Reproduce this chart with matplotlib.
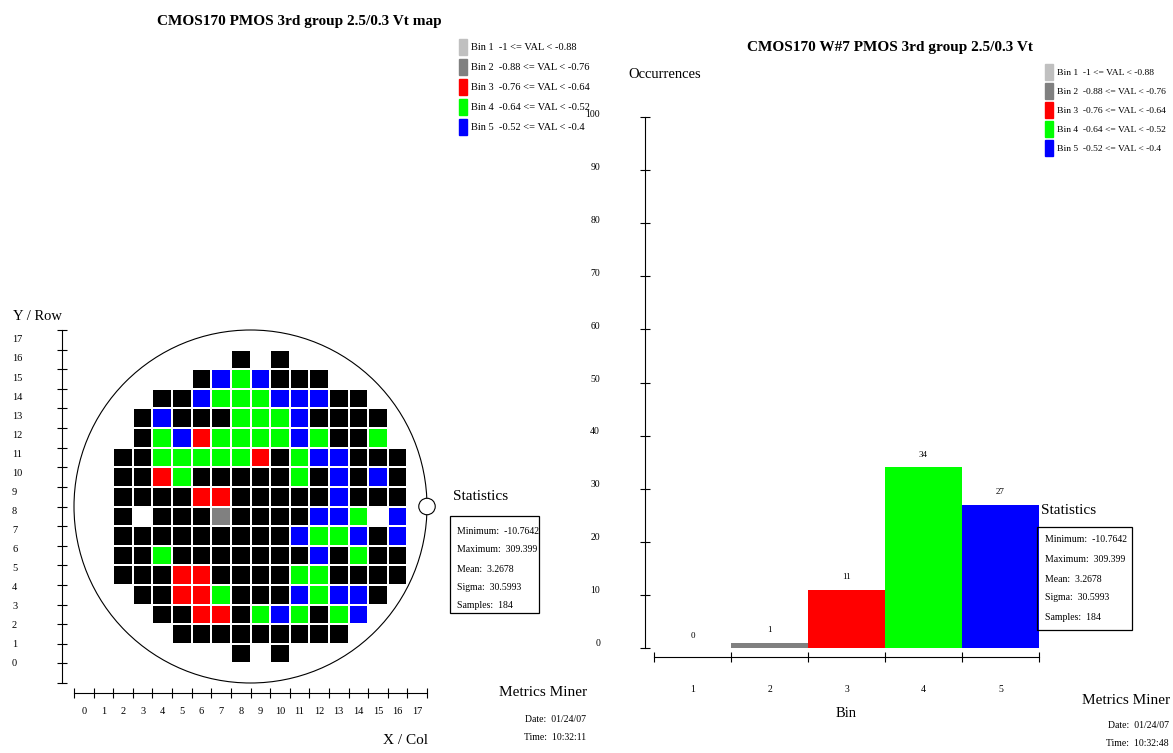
import matplotlib
matplotlib.use('Agg')
import matplotlib.pyplot as plt
import numpy as np
from matplotlib.patches import Circle, Rectangle
from matplotlib.colors import ListedColormap, BoundaryNorm

plt.rcParams['font.family'] = ['Liberation Serif', 'DejaVu Serif']

W, H = 1173, 753

# bins and histogram
bin_labels = ['Bin 1  -1 <= VAL < -0.88', 'Bin 2  -0.88 <= VAL < -0.76',
              'Bin 3  -0.76 <= VAL < -0.64', 'Bin 4  -0.64 <= VAL < -0.52',
              'Bin 5  -0.52 <= VAL < -0.4']
bin_colors = ['#c0c0c0', '#808080', '#ff0000', '#00ff00', '#0000ff']
bins = [1, 2, 3, 4, 5]
counts = [0, 1, 11, 34, 27]

stats_lines = ['Minimum:  -10.7642', 'Maximum:  309.399', 'Mean:  3.2678',
               'Sigma:  30.5993', 'Samples:  184']

# wafer map, rows 16 down to 1, columns 2..16
# K = out of range, Y = bin 2, R = bin 3, G = bin 4, B = bin 5, . = no die
first_col = 2
top_row = 16
wafer_rows = [
    "......K.K......",
    "....KBGBKKK....",
    "..KKBGGGBBBKK..",
    ".KBKKKGGGBKKKK.",
    ".KGBRGGGGBGKKG.",
    "KKGGGGGRKGBBKKK",
    "KKRGKKKKKGKBKBK",
    "KKKKRRKKKKKBKKK",
    "K.KKKYKKKKBBG.B",
    "KKKKKKKKKBGGBKB",
    "KKGKKKKKKKBKGKK",
    "KKKRRKKKKGGKKKK",
    ".KKRRGKKKBGBBK.",
    "..KKRRKGBGKGB..",
    "...KKKKKKKKK...",
    "......K.K......",
]
code_of = {'K': 0, 'Y': 2, 'R': 3, 'G': 4, 'B': 5}

x_labels = [str(i) for i in range(18)]
y_labels = [str(i) for i in range(18)]
hist_yticks = list(range(0, 101, 10))


def fx(x):
    return x / W


def fy(y):
    return 1 - y / H


fig = plt.figure(figsize=(W / 100, H / 100), dpi=100)

# ---------------- wafer map ----------------
ax = fig.add_axes([fx(74), fy(683), 353 / W, 353 / H])
Z = np.full((18, 18), np.nan)
for i, line in enumerate(wafer_rows):
    r = top_row - i
    for j, ch in enumerate(line):
        if ch != '.':
            Z[r, first_col + j] = code_of[ch]
cmap = ListedColormap(['black'] + bin_colors)
norm = BoundaryNorm(np.arange(-0.5, 6.5, 1), cmap.N)
ax.pcolormesh(np.arange(19), np.arange(19), np.ma.masked_invalid(Z),
              cmap=cmap, norm=norm, edgecolors='white', linewidth=1.3)
ax.add_patch(Circle((9, 9), 9, fill=False, lw=0.8, color='black', zorder=5, clip_on=False))
ax.add_patch(Circle((18, 9), 0.42, facecolor='white', edgecolor='black', lw=0.8, zorder=6, clip_on=False))
ax.set_xlim(0, 18)
ax.set_ylim(0, 18)
for s in ['top', 'right']:
    ax.spines[s].set_visible(False)
ax.spines['left'].set_position(('outward', 8.6))
ax.spines['bottom'].set_position(('outward', 7.2))
ax.spines['left'].set_bounds(0, 18)
ax.spines['bottom'].set_bounds(0, 18)
ax.set_xticks(range(19))
ax.set_yticks(range(19))
ax.set_xticklabels([])
ax.set_yticklabels([])
ax.tick_params(direction='inout', length=7, width=0.8)
for k, lab in enumerate(x_labels):
    ax.text(k + 0.5, -1.43, lab, ha='center', va='center', fontsize=7.5, clip_on=False)
for k, lab in enumerate(y_labels):
    ax.text(-3.16, 0.97 + 0.972 * k, lab, ha='left', va='center', fontsize=7.5, clip_on=False)

fig.text(fx(299), fy(22), 'CMOS170 PMOS 3rd group 2.5/0.3 Vt map', ha='center', va='center',
         fontsize=11, fontweight='bold')
fig.text(fx(13), fy(316), 'Y / Row', ha='left', va='center', fontsize=10.5)
fig.text(fx(428), fy(740), 'X / Col', ha='right', va='center', fontsize=11)

# ---------------- histogram ----------------
hx = fig.add_axes([fx(654), fy(648), 385 / W, 531 / H])
hx.bar(bins, counts, width=1.0, color=bin_colors)
for b, c in zip(bins, counts):
    hx.text(b, c + 2.3, str(c), ha='center', va='center', fontsize=6.5)
hx.set_xlim(0.5, 5.5)
hx.set_ylim(0, 100)
for s in ['top', 'right']:
    hx.spines[s].set_visible(False)
hx.spines['left'].set_position(('outward', 6.5))
hx.spines['bottom'].set_position(('outward', 6.5))
hx.spines['left'].set_bounds(0, 100)
hx.spines['bottom'].set_bounds(0.5, 5.5)
hx.set_xticks(np.arange(0.5, 6.0, 1.0))
hx.set_yticks(hist_yticks)
hx.set_xticklabels([])
hx.set_yticklabels([])
hx.tick_params(direction='inout', length=7, width=0.8)
for v in hist_yticks:
    hx.text(-0.2, v * 0.995 + 0.9, str(v), ha='right', va='center', fontsize=7, clip_on=False)
for b in bins:
    hx.text(b, -7.9, str(b), ha='center', va='center', fontsize=7, clip_on=False)
hx.text(3, -12.4, 'Bin', ha='center', va='center', fontsize=10.5, clip_on=False)

fig.text(fx(890), fy(47), 'CMOS170 W#7 PMOS 3rd group 2.5/0.3 Vt', ha='center', va='center',
         fontsize=11, fontweight='bold')
fig.text(fx(628), fy(75), 'Occurrences', ha='left', va='center', fontsize=10.5)


# ---------------- legends ----------------
def legend(x, y0, step, size):
    for i, (lab, col) in enumerate(zip(bin_labels, bin_colors)):
        yc = y0 + i * step
        fig.patches.append(Rectangle((fx(x), fy(yc + 8)), 8 / W, 16 / H, color=col,
                                     transform=fig.transFigure))
        fig.text(fx(x + 12), fy(yc + 1), lab, ha='left', va='center', fontsize=size)


legend(459, 47, 20, 7.5)
legend(1045, 72, 19, 6.8)


# ---------------- statistics ----------------
def stats(x0, y0, w, h, title_x, title_y, text_x, lines_y):
    fig.text(fx(title_x), fy(title_y), 'Statistics', ha='left', va='center', fontsize=11)
    fig.patches.append(Rectangle((fx(x0), fy(y0 + h)), w / W, h / H, fill=False,
                                 edgecolor='black', lw=0.9, transform=fig.transFigure))
    for s, yy in zip(stats_lines, lines_y):
        fig.text(fx(text_x), fy(yy), s, ha='left', va='center', fontsize=7)


stats(450, 516, 89, 97, 453, 497, 457, [532, 550, 569, 587, 606])
stats(1037, 527, 95, 103, 1041, 510, 1045, [540, 560, 579, 598, 617])


# ---------------- footers ----------------
def footer(xr, y0, time):
    fig.text(fx(xr), fy(y0), 'Metrics Miner', ha='right', va='center', fontsize=11)
    fig.text(fx(xr - 1), fy(y0 + 26), 'Date:  01/24/07', ha='right', va='center', fontsize=7)
    fig.text(fx(xr - 1), fy(y0 + 44), 'Time:  ' + time, ha='right', va='center', fontsize=7)


footer(587, 693, '10:32:11')
footer(1170, 700, '10:32:48')

fig.savefig('out.png', dpi=100)
